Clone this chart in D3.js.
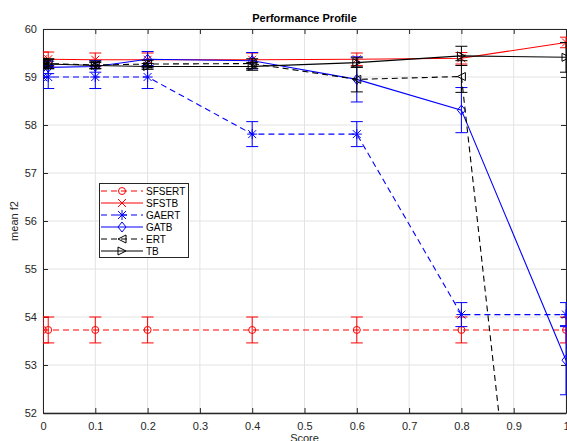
<!DOCTYPE html>
<html><head><meta charset="utf-8">
<script src="https://cdn.jsdelivr.net/npm/d3@7"></script>
<style>body{margin:0;background:#fff;} svg{display:block;font-family:"Liberation Sans",Arial,sans-serif;}</style>
</head><body><svg id="c" width="567" height="441"></svg>
<script>
const scores = [0, 0.01, 0.1, 0.2, 0.4, 0.6, 0.8, 1];
const xTicks = [0,0.1,0.2,0.3,0.4,0.5,0.6,0.7,0.8,0.9,1];
const yTicks = [52,53,54,55,56,57,58,59,60];
const seriesNames = ["SFSERT","SFSTB","GAERT","GATB","ERT","TB"];
const sfsertVals = [53.73,53.73,53.73,53.73,53.73,53.73,53.73,53.73];
const sfsertErr  = [0.27,0.27,0.27,0.27,0.27,0.27,0.27,0.27];
const sfstbVals  = [59.37,59.37,59.36,59.36,59.36,59.37,59.39,59.72];
const sfstbErr   = [0.15,0.15,0.14,0.14,0.14,0.13,0.12,0.11];
const gaertVals  = [59.0,59.0,59.0,59.0,57.81,57.81,54.05,54.05];
const gaertErr   = [0.24,0.24,0.24,0.24,0.26,0.26,0.25,0.25];
const gatbVals   = [59.2,59.2,59.22,59.37,59.34,58.95,58.31,53.1];
const gatbErr    = [0.13,0.13,0.12,0.16,0.17,0.47,0.47,0.72];
const ertVals    = [59.28,59.28,59.25,59.27,59.28,58.95,59.01,39.4];
const ertErr     = [0.1,0.1,0.08,0.08,0.1,0.26,0.33,0.5];
const tbVals     = [59.27,59.27,59.24,59.22,59.22,59.30,59.44,59.41];
const tbErr      = [0.1,0.1,0.06,0.06,0.08,0.1,0.2,0.31];

const series = [
  {name:"SFSERT", vals:sfsertVals, err:sfsertErr, color:"#ff0000", dash:"6,4", marker:"circle"},
  {name:"SFSTB",  vals:sfstbVals,  err:sfstbErr,  color:"#ff0000", dash:null,  marker:"x"},
  {name:"GAERT",  vals:gaertVals,  err:gaertErr,  color:"#0000ff", dash:"6,4", marker:"star"},
  {name:"GATB",   vals:gatbVals,   err:gatbErr,   color:"#0000ff", dash:null,  marker:"diamond"},
  {name:"ERT",    vals:ertVals,    err:ertErr,    color:"#000000", dash:"6,4", marker:"tleft"},
  {name:"TB",     vals:tbVals,     err:tbErr,     color:"#000000", dash:null,  marker:"tright"}
];

const L=43, R=566, T=29, B=413;
const x = d3.scaleLinear().domain([0,1]).range([L,R]);
const y = d3.scaleLinear().domain([52,60]).range([B,T]);
const svg = d3.select("#c");

svg.append("defs").append("clipPath").attr("id","clip")
  .append("rect").attr("x",L).attr("y",T).attr("width",R-L+1).attr("height",B-T);

// grid
const g = svg.append("g");
g.selectAll(".gx").data(xTicks).enter().append("line")
  .attr("x1",d=>x(d)).attr("x2",d=>x(d)).attr("y1",T).attr("y2",B)
  .attr("stroke","#e3e3e3").attr("stroke-width",1);
g.selectAll(".gy").data(yTicks).enter().append("line")
  .attr("x1",L).attr("x2",R).attr("y1",d=>y(d)).attr("y2",d=>y(d))
  .attr("stroke","#e3e3e3").attr("stroke-width",1);

// axes
const axCol = "#262626";
const xAxis = svg.append("g").attr("transform",`translate(0,${B})`)
  .call(d3.axisBottom(x).tickValues(xTicks).tickFormat(d=>d3.format("")(+d.toFixed(1))).tickSizeInner(-5).tickSizeOuter(0).tickPadding(9));
const xTop = svg.append("g").attr("transform",`translate(0,${T})`)
  .call(d3.axisTop(x).tickValues(xTicks).tickFormat("").tickSizeInner(-5).tickSizeOuter(0));
const yAxis = svg.append("g").attr("transform",`translate(${L},0)`)
  .call(d3.axisLeft(y).tickValues(yTicks).tickSizeInner(-5).tickSizeOuter(0).tickPadding(6));
const yRight = svg.append("g").attr("transform",`translate(${R},0)`)
  .call(d3.axisRight(y).tickValues(yTicks).tickFormat("").tickSizeInner(-5).tickSizeOuter(0));
[xAxis,xTop,yAxis,yRight].forEach(a=>{
  a.selectAll("path").attr("stroke",axCol).attr("stroke-width",1);
  a.selectAll("line").attr("stroke",axCol);
  a.selectAll("text").attr("fill",axCol).attr("font-size",11).attr("font-family","Liberation Sans, Arial, sans-serif");
});
xAxis.select(".domain").attr("stroke-width",1.5);

// marker drawing
function drawMarker(sel, type, cx, cy, color){
  const s = 4;
  if(type==="circle"){
    sel.append("circle").attr("cx",cx).attr("cy",cy).attr("r",3.5).attr("fill","none").attr("stroke",color).attr("stroke-width",1);
  } else if(type==="x"){
    sel.append("path").attr("d",`M${cx-s},${cy-s}L${cx+s},${cy+s}M${cx-s},${cy+s}L${cx+s},${cy-s}`).attr("stroke",color).attr("stroke-width",1);
  } else if(type==="star"){
    sel.append("path").attr("d",`M${cx-s},${cy-s}L${cx+s},${cy+s}M${cx-s},${cy+s}L${cx+s},${cy-s}M${cx-s-1},${cy}L${cx+s+1},${cy}M${cx},${cy-s-1}L${cx},${cy+s+1}`).attr("stroke",color).attr("stroke-width",1);
  } else if(type==="diamond"){
    sel.append("path").attr("d",`M${cx},${cy-s-1}L${cx+s},${cy}L${cx},${cy+s+1}L${cx-s},${cy}Z`).attr("fill","none").attr("stroke",color).attr("stroke-width",1);
  } else if(type==="tleft"){
    sel.append("path").attr("d",`M${cx-s},${cy}L${cx+s},${cy-s}L${cx+s},${cy+s}Z`).attr("fill","none").attr("stroke",color).attr("stroke-width",1);
  } else if(type==="tright"){
    sel.append("path").attr("d",`M${cx+s},${cy}L${cx-s},${cy-s}L${cx-s},${cy+s}Z`).attr("fill","none").attr("stroke",color).attr("stroke-width",1);
  }
}

const plot = svg.append("g").attr("clip-path","url(#clip)");
const line = d3.line().x((d,i)=>x(scores[i])).y(d=>y(d));
series.forEach(s=>{
  const gs = plot.append("g");
  gs.append("path").attr("d",line(s.vals)).attr("fill","none").attr("stroke",s.color)
    .attr("stroke-width",1.1).attr("stroke-dasharray",s.dash);
  s.vals.forEach((v,i)=>{
    const cx = x(scores[i]), e = s.err[i];
    const y1 = y(v+e), y2 = y(v-e);
    gs.append("path").attr("d",`M${cx},${y1}L${cx},${y2}M${cx-6},${y1}L${cx+6},${y1}M${cx-6},${y2}L${cx+6},${y2}`)
      .attr("stroke",s.color).attr("stroke-width",1).attr("fill","none");
    drawMarker(gs, s.marker, cx, y(v), s.color);
  });
});

// title and labels
svg.append("text").attr("x",(L+R)/2).attr("y",22).attr("text-anchor","middle")
  .attr("font-size",11).attr("font-weight","bold").attr("fill","#000").text("Performance Profile");
svg.append("text").attr("x",(L+R)/2).attr("y",442).attr("text-anchor","middle")
  .attr("font-size",11).attr("fill",axCol).text("Score");
svg.append("text").attr("transform",`translate(18,${(T+B)/2}) rotate(-90)`).attr("text-anchor","middle")
  .attr("font-size",11).attr("fill",axCol).text("mean f2");

// legend
const lg = svg.append("g");
lg.append("rect").attr("x",99.5).attr("y",183.5).attr("width",89).attr("height",74)
  .attr("fill","#fff").attr("stroke",axCol).attr("stroke-width",1);
series.forEach((s,i)=>{
  const ly = 191 + i*12;
  lg.append("line").attr("x1",101).attr("x2",143).attr("y1",ly).attr("y2",ly)
    .attr("stroke",s.color).attr("stroke-width",1).attr("stroke-dasharray",s.dash);
  drawMarker(lg, s.marker, 122, ly, s.color);
  lg.append("text").attr("x",146).attr("y",ly+3.5).attr("font-size",10).attr("fill","#000").text(s.name);
});
</script></body></html>
